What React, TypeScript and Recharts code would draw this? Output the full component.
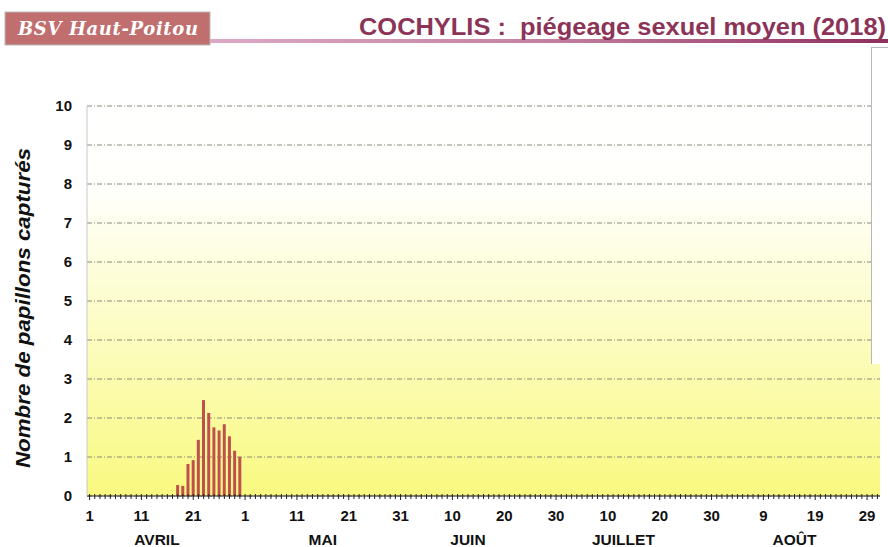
import { Bar, BarChart, CartesianGrid, XAxis, YAxis } from "recharts";

// season runs from 1 April to 31 August 2018, one category per day
const monthNames = ["AVRIL", "MAI", "JUIN", "JUILLET", "AOÛT"];
const monthNumbers = [4, 5, 6, 7, 8];
const monthLengths = [30, 31, 30, 31, 31];
// day under which each month name is printed
const monthLabelDates = ["14/04", "16/05", "13/06", "13/07", "15/08"];

// labelled days on the date axis
const dayLabelDates = [
  "01/04", "11/04", "21/04", "01/05", "11/05", "21/05", "31/05", "10/06",
  "20/06", "30/06", "10/07", "20/07", "30/07", "09/08", "19/08", "29/08",
];

// mean catches per trap
const captureDates = [
  "18/04", "19/04", "20/04", "21/04", "22/04", "23/04", "24/04",
  "25/04", "26/04", "27/04", "28/04", "29/04", "30/04",
];
const captures = [0.28, 0.26, 0.82, 0.92, 1.44, 2.46, 2.13, 1.76, 1.68, 1.84, 1.53, 1.16, 1.0];

const yTicks = [0, 1, 2, 3, 4, 5, 6, 7, 8, 9, 10];

const pad = (n: number) => (n < 10 ? "0" + n : "" + n);

const days: { date: string; day: number; month: number }[] = [];
monthLengths.forEach((len, m) => {
  for (let d = 1; d <= len; d++) {
    days.push({ date: `${pad(d)}/${pad(monthNumbers[m])}`, day: d, month: m });
  }
});

const data = days.map((d) => {
  const i = captureDates.indexOf(d.date);
  return { date: d.date, day: d.day, captures: i >= 0 ? captures[i] : 0 };
});

const FONT = '"Liberation Sans", Arial, sans-serif';

const DayTick = (props: any) => {
  const { x, y, payload } = props;
  const labelled = dayLabelDates.includes(payload.value);
  return (
    <g>
      <line x1={x} x2={x} y1={y - 2} y2={y + (labelled ? 4 : 3)} stroke="#222" strokeWidth={1} />
      {labelled && (
        <text x={x} y={y + 25} textAnchor="middle" fontSize={15} fontWeight="bold" fill="#111" fontFamily={FONT}>
          {String(parseInt(payload.value.substring(0, 2), 10))}
        </text>
      )}
    </g>
  );
};

const MonthTick = (props: any) => {
  const { x, y, payload } = props;
  const i = monthLabelDates.indexOf(payload.value);
  if (i < 0) return null;
  return (
    <text x={x} y={y + 24} textAnchor="middle" fontSize={15.5} fontWeight="bold" fill="#111" fontFamily={FONT}>
      {monthNames[i]}
    </text>
  );
};

export default function App() {
  return (
    <div style={{ position: "absolute", left: 0, top: 0, width: 888, height: 547, background: "#fff", overflow: "hidden" }}>
      <BarChart
        width={888}
        height={547}
        data={data}
        margin={{ top: 106, right: 8, bottom: 0, left: 0 }}
        barSize={3}
      >
        <defs>
          <linearGradient id="plotBg" x1="0" y1="0" x2="0" y2="1">
            <stop offset="0%" stopColor="#ffffff" />
            <stop offset="22%" stopColor="#fffffb" />
            <stop offset="100%" stopColor="#f9f980" />
          </linearGradient>
        </defs>
        <CartesianGrid
          vertical={false}
          fill="url(#plotBg)"
          stroke="#8a8a7a"
          strokeDasharray="5 2 1 2"
        />
        <XAxis
          dataKey="date"
          interval={0}
          tickSize={0}
          tickMargin={0}
          tick={<DayTick />}
          height={25}
          stroke="#222"
        />
        <XAxis
          xAxisId="month"
          dataKey="date"
          interval={0}
          tickSize={0}
          tickMargin={0}
          tick={<MonthTick />}
          axisLine={false}
          tickLine={false}
          height={26}
        />
        <YAxis
          domain={[0, 10]}
          ticks={yTicks}
          interval={0}
          width={87}
          tickSize={0}
          tickMargin={15}
          stroke="#c8c8c8"
          tick={{ fontSize: 15, fontWeight: "bold", fill: "#111", fontFamily: FONT }}
          label={{
            content: () => (
              <text
                x={22}
                y={308}
                transform="rotate(-90 22 308)"
                textAnchor="middle"
                dominantBaseline="central"
                fontSize={21}
                fontWeight="bold"
                fontStyle="italic"
                fill="#111"
                fontFamily={FONT}
                textLength={320}
                lengthAdjust="spacingAndGlyphs"
              >
                Nombre de papillons capturés
              </text>
            ),
          }}
        />
        <Bar dataKey="captures" fill="#c0504d" isAnimationActive={false} />
      </BarChart>

      {/* slide header */}
      <svg width={888} height={50} style={{ position: "absolute", left: 0, top: 0 }}>
        <defs>
          <linearGradient id="rule" x1="0" y1="0" x2="1" y2="0">
            <stop offset="0%" stopColor="#dcaac4" />
            <stop offset="50%" stopColor="#c47fa2" />
            <stop offset="100%" stopColor="#8e2f5e" />
          </linearGradient>
        </defs>
        <rect x={5} y={12} width={205} height={33} fill="#c06e6e" stroke="#bbb" strokeWidth={1} />
        <text
          x={18}
          y={35}
          fontSize={18}
          fontStyle="italic"
          fontWeight="bold"
          fill="#fff"
          fontFamily='"DejaVu Serif", serif'
          textLength={180}
          lengthAdjust="spacing"
        >
          BSV Haut-Poitou
        </text>
        <rect x={210} y={39} width={678} height={4} fill="url(#rule)" />
        <text
          x={359}
          y={35}
          fontFamily={FONT}
          fontWeight="bold"
          fontSize={23}
          fill="#8c3358"
          style={{ whiteSpace: "pre" }}
          textLength={527}
          lengthAdjust="spacingAndGlyphs"
        >
          {"COCHYLIS :  piégeage sexuel moyen (2018)"}
        </text>
      </svg>
      {/* cropped legend frame at the right edge */}
      <div
        style={{
          position: "absolute",
          left: 871,
          top: 47,
          width: 17,
          height: 316,
          background: "#fff",
          borderLeft: "1px solid #b8b8b8",
          borderTop: "1px solid #b8b8b8",
        }}
      />
    </div>
  );
}
